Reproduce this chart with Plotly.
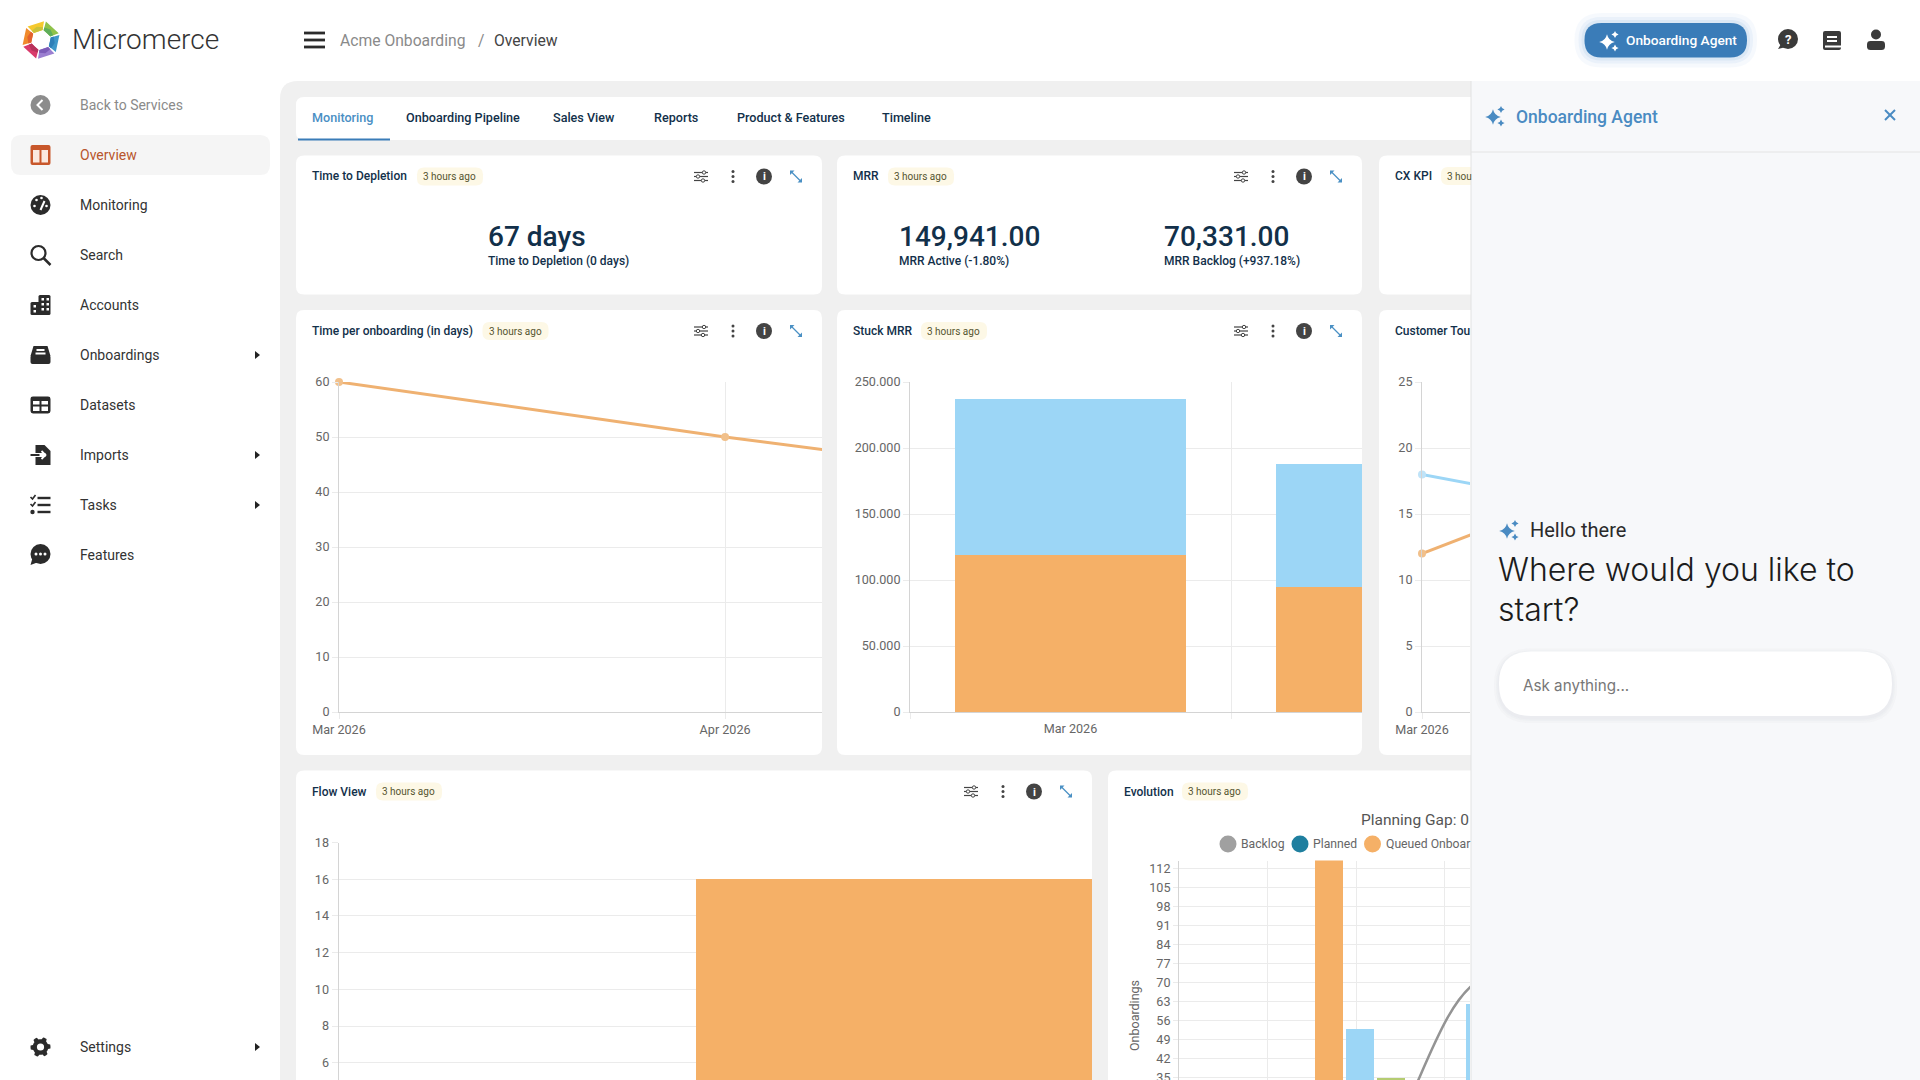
import math
import plotly.graph_objects as go

# chart values
time_months = ['Mar 2026', 'Apr 2026', 'May 2026']
time_days = [60, 50, 41]
time_ticks = [0, 10, 20, 30, 40, 50, 60]

stuck_months = ['Mar 2026', 'Apr 2026']
stuck_orange = [119000, 95000]
stuck_blue = [118500, 93000]
stuck_ticks = [0, 50000, 100000, 150000, 200000, 250000]
stuck_labels = ['0', '50.000', '100.000', '150.000', '200.000', '250.000']

tour_months = ['Mar 2026', 'Apr 2026']
tour_blue = [18, 12.4]
tour_orange = [12, 23.3]
tour_ticks = [0, 5, 10, 15, 20, 25]

flow_steps = [0, 1, 2]
flow_values = [0, 16, 16]
flow_ticks = [6, 8, 10, 12, 14, 16, 18]

evo_ticks = [35, 42, 49, 56, 63, 70, 77, 84, 91, 98, 105, 112]
evo_grid = [0, 1, 2, 3]
evo_queued_x = [1.695]
evo_queued = [118]
evo_blue_x = [2.045, 3.40]
evo_blue = [53, 62]
evo_green_x = [2.395]
evo_green = [34.6]
evo_backlog_x = [0.69, 2.045, 3.40, 4.75]
evo_backlog = [0, 0, 71, 72]

menu_items = ['Back to Services', 'Overview', 'Monitoring', 'Search', 'Accounts', 'Onboardings',
              'Datasets', 'Imports', 'Tasks', 'Features', 'Settings']
menu_y = [105, 155, 205, 255, 305, 355, 405, 455, 505, 555, 1047]
tab_names = ['Monitoring', 'Onboarding Pipeline', 'Sales View', 'Reports', 'Product & Features', 'Timeline']
tab_x = [312, 406, 553, 654, 737, 882]

ORANGE = '#f5b067'
BLUE = '#9cd6f6'
GREEN = '#b5cc72'
NAVY = '#12304a'
ACCENT = '#3a7cb8'
INK = '#333333'
GRID = '#ebebeb'
AXIS = '#d4d4d4'
TICK = '#666666'
W = 1920
H = 1080

shapes = []
notes = []


def px(x):
    return x / W


def py(y):
    return 1 - y / H


def to_paper(d):
    # pixel path to paper coordinates
    out = []
    is_x = True
    for tok in d.split():
        if tok.isalpha():
            out.append(tok)
            is_x = True
        else:
            out.append(str(round(px(float(tok)) if is_x else py(float(tok)), 5)))
            is_x = not is_x
    return ' '.join(out)


def shift(d, cx, cy, s=1.0):
    # move a path of absolute commands to (cx, cy)
    out = []
    is_x = True
    for tok in d.split():
        if tok.isalpha():
            out.append(tok)
            is_x = True
        else:
            out.append(str(round(float(tok) * s + (cx if is_x else cy), 2)))
            is_x = not is_x
    return ' '.join(out)


def path(d, fill=None, line=None, width=0, opacity=1):
    shapes.append(dict(type='path', xref='paper', yref='paper', layer='below', path=to_paper(d), opacity=opacity,
                       fillcolor=fill or 'rgba(0,0,0,0)', line=dict(color=line or 'rgba(0,0,0,0)', width=width)))


def rrect(x0, y0, x1, y1, r, fill, opacity=1, tl=None):
    tl = r if tl is None else tl
    d = (f'M {x0 + tl} {y0} L {x1 - r} {y0} Q {x1} {y0} {x1} {y0 + r} L {x1} {y1 - r} Q {x1} {y1} {x1 - r} {y1} '
         f'L {x0 + r} {y1} Q {x0} {y1} {x0} {y1 - r} L {x0} {y0 + tl} Q {x0} {y0} {x0 + tl} {y0} Z')
    path(d, fill, opacity=opacity)


def rect(x0, y0, x1, y1, fill):
    path(f'M {x0} {y0} L {x1} {y0} L {x1} {y1} L {x0} {y1} Z', fill)


def dot(cx, cy, r, fill, line=None, width=0):
    shapes.append(dict(type='circle', xref='paper', yref='paper', layer='below', x0=px(cx - r), y0=py(cy - r),
                       x1=px(cx + r), y1=py(cy + r), fillcolor=fill, line=dict(color=line or 'rgba(0,0,0,0)', width=width)))


def seg(x0, y0, x1, y1, color, width=2):
    shapes.append(dict(type='line', xref='paper', yref='paper', layer='below', x0=px(x0), y0=py(y0), x1=px(x1), y1=py(y1),
                       line=dict(color=color, width=width)))


def txt(x, y, s, size=13, color=INK, anchor='left', weight=400, family='Roboto', angle=0):
    # annotations carry a small pad, pull them back onto the pixel
    if anchor == 'left':
        x -= 2
    elif anchor == 'right':
        x += 2
    notes.append(dict(x=px(x), y=py(y), xref='paper', yref='paper', text=s, showarrow=False, xanchor=anchor,
                      yanchor='middle', textangle=angle, font=dict(size=size, color=color, weight=weight, family=family)))


def star(cx, cy, r, fill):
    c = r * 0.18
    d = (f'M 0 {-r} Q {c} {-c} {r} 0 Q {c} {c} 0 {r} Q {-c} {c} {-r} 0 Q {-c} {-c} 0 {-r} Z')
    path(shift(d, cx, cy), fill)


def sparkle(cx, cy, fill):
    star(cx - 2, cy + 1, 7.8, fill)
    star(cx + 6, cy - 6.5, 3.6, fill)
    star(cx + 6, cy + 7, 3.6, fill)


def card(x0, y0, x1, y1, title, badge_x, badge='3 hours ago', icons=True):
    clip = x1 >= 1471
    rrect(x0, y0, x1 + (12 if clip else 0), y1, 8, 'white')
    head = y0 + 21
    txt(x0 + 16, head, title, 12, NAVY, weight=500)
    if badge:
        rrect(badge_x, head - 9, badge_x + 66, head + 9, 7, '#fdf8e6')
        txt(badge_x + 6, head, badge, 10, '#55552f')
    if icons:
        cx = x1 - 121
        for oy in (-4, 0, 4):
            seg(cx - 7, head + oy, cx + 7, head + oy, '#444444', 1.2)
        dot(cx + 3, head - 4, 1.7, 'white', '#444444', 1)
        dot(cx - 3, head, 1.7, 'white', '#444444', 1)
        dot(cx + 2, head + 4, 1.7, 'white', '#444444', 1)
        for oy in (-5, 0, 5):
            dot(x1 - 89, head + oy, 1.5, '#444444')
        dot(x1 - 58, head, 8, '#444444')
        txt(x1 - 58, head + 0.5, 'i', 11, 'white', 'center', 700)
        ex = x1 - 26
        seg(ex - 5, head - 5, ex + 5, head + 5, '#4a90c4', 1.3)
        path(f'M {ex - 6} {head - 6} L {ex - 1.5} {head - 6} L {ex - 6} {head - 1.5} Z', '#4a90c4')
        path(f'M {ex + 6} {head + 6} L {ex + 1.5} {head + 6} L {ex + 6} {head + 1.5} Z', '#4a90c4')


def logo(cx, cy):
    colors = ['#8fc24a', '#3f97c9', '#9b7fd1', '#d93a6b', '#f08a2c', '#f5c92e']
    inner = ['#5fae5a', '#2f7fb8', '#7c5cb8', '#b8325a', '#e3622e', '#c9c23a']
    for i in range(6):
        a = math.radians(i * 60 - 75)
        b = a + math.radians(54)
        m = (a + b) / 2
        pts = [(19, a), (19, b), (10, b), (9, m), (10, a)]
        xy = [(cx + r * math.cos(t), cy + r * math.sin(t)) for r, t in pts]
        d = 'M ' + ' L '.join(f'{x:.1f} {y:.1f}' for x, y in xy) + ' Z'
        path(d, colors[i])
        pts = [(14, m), (13, b), (10, b), (9, m), (10, a), (13, a)]
        xy = [(cx + r * math.cos(t), cy + r * math.sin(t)) for r, t in pts]
        d = 'M ' + ' L '.join(f'{x:.1f} {y:.1f}' for x, y in xy) + ' Z'
        path(d, inner[i])


def menu_icon(name, cy):
    cx = 40.5
    k = '#2b2b2b'
    if name == 'Back to Services':
        dot(cx, cy, 10, '#8c8c8c')
        path(shift('M 2 -5 L -3 0 L 2 5', cx, cy), None, 'white', 2)
    elif name == 'Overview':
        rrect(cx - 10, cy - 10, cx + 10, cy + 10, 2, '#c8572b')
        rect(cx - 7.5, cy - 5, cx - 1, cy + 7.5, '#fbe9df')
        rect(cx + 1, cy - 5, cx + 7.5, cy + 7.5, '#fbe9df')
    elif name == 'Monitoring':
        dot(cx, cy, 10, k)
        seg(cx, cy + 5, cx + 4, cy - 4, 'white', 2)
        for ox, oy in ((-6, 1), (-4, -5), (1, -7), (6, 1)):
            dot(cx + ox, cy + oy, 1.3, 'white')
    elif name == 'Search':
        dot(cx - 2, cy - 2, 7, 'rgba(0,0,0,0)', k, 2.2)
        seg(cx + 3, cy + 3, cx + 10, cy + 10, k, 2.5)
    elif name == 'Accounts':
        rrect(cx - 10, cy - 3, cx, cy + 10, 1.5, k)
        rrect(cx - 2, cy - 10, cx + 10, cy + 10, 1.5, k)
        for ox in (1, 6):
            for oy in (-7, -2, 3):
                rect(cx + ox, cy + oy, cx + ox + 2.5, cy + oy + 2.5, 'white')
        for oy in (0, 5):
            rect(cx - 7, cy + oy, cx - 4.5, cy + oy + 2.5, 'white')
    elif name == 'Onboardings':
        rrect(cx - 10, cy + 0, cx + 10, cy + 9, 2, k)
        path(shift('M -7 -9 L 7 -9 L 10 1 L 3 1 L 2 4 L -2 4 L -3 1 L -10 1 Z', cx, cy), k)
        rect(cx - 4, cy - 6, cx + 4, cy - 4, 'white')
        rect(cx - 5, cy - 2.5, cx + 5, cy - 0.5, 'white')
    elif name == 'Datasets':
        rrect(cx - 10, cy - 8.5, cx + 10, cy + 8.5, 2.5, k)
        for x0, x1 in ((-7.5, -1), (1, 7.5)):
            rect(cx + x0, cy - 4, cx + x1, cy - 0.5, 'white')
            rect(cx + x0, cy + 1.5, cx + x1, cy + 6, 'white')
    elif name == 'Imports':
        path(shift('M -5 -10 L 4 -10 L 10 -4 L 10 10 L -5 10 Z', cx, cy), k)
        seg(cx - 10, cy, cx + 5, cy, 'white', 4)
        seg(cx - 10, cy, cx + 4, cy, k, 2)
        seg(cx - 1, cy, cx + 4, cy, 'white', 2)
        path(shift('M 1 -4 L 5 0 L 1 4', cx, cy), None, 'white', 1.8)
    elif name == 'Tasks':
        for oy in (-7, 0, 7):
            seg(cx - 3, cy + oy, cx + 10, cy + oy, k, 2.4)
        path(shift('M -10 -8 L -8 -6 L -5 -10', cx, cy), None, k, 1.6)
        path(shift('M -10 -1 L -8 1 L -5 -3', cx, cy), None, k, 1.6)
        dot(cx - 8, cy + 7, 2.2, k)
    elif name == 'Features':
        dot(cx, cy - 1, 10, k, None, 0)
        path(shift('M -8 3 L -10 10 L -2 7 Z', cx, cy), k)
        for ox in (-4.5, 0, 4.5):
            dot(cx + ox, cy - 1, 1.5, 'white')
    elif name == 'Settings':
        pts = []
        for i in range(48):
            r = 10 if (i % 8) in (0, 1, 2, 7) else 7.8
            a = math.radians(i * 7.5 - 7)
            pts.append(f'{cx + r * math.cos(a):.1f} {cy + r * math.sin(a):.1f}')
        path('M ' + ' L '.join(pts) + ' Z', k)
        dot(cx, cy, 3.6, 'white')


# page background and side menu
rrect(280, 81, 1500, 1100, 0, '#f0f0f0', tl=18)
logo(41, 40)
txt(72, 40, 'Micromerce', 28, INK, weight=300)
for oy in (-7, 0, 7):
    seg(304, 40 + oy, 325, 40 + oy, '#2b2b2b', 2.8)
txt(340, 40.5, 'Acme Onboarding', 15.7, '#8a8a8a')
txt(478, 40.5, '/', 15.7, '#8a8a8a')
txt(494, 40.5, 'Overview', 15.7, '#444444')

rrect(11, 135, 270, 175, 10, '#f5f5f5')
for item, y in zip(menu_items, menu_y):
    menu_icon(item, y)
    col = '#8a8a8a' if item == 'Back to Services' else ('#b8562c' if item == 'Overview' else INK)
    txt(80, y, item, 14, col)
    if item in ('Onboardings', 'Imports', 'Tasks', 'Settings'):
        path(f'M 255 {y - 4} L 260 {y} L 255 {y + 4} Z', '#222222')

# tabs
rrect(296, 97, 1490, 140, 8, 'white')
for i, (name, x) in enumerate(zip(tab_names, tab_x)):
    txt(x, 117.5, name, 12.6, '#4a8fc4' if i == 0 else NAVY, weight=500)
seg(298, 139.5, 390, 139.5, ACCENT, 2)

# cards
card(296, 155.5, 822, 294.5, 'Time to Depletion', 417)
card(837, 155.5, 1362, 294.5, 'MRR', 888)
card(1379, 155.5, 1471, 294.5, 'CX KPI', 1441, '', icons=False)
card(296, 310, 822, 755, 'Time per onboarding (in days)', 482.5)
card(837, 310, 1362, 755, 'Stuck MRR', 921)
card(1379, 310, 1471, 755, 'Customer Tou', 1500, '', icons=False)
card(296, 770.5, 1092, 1100, 'Flow View', 376)
card(1108, 770.5, 1471, 1100, 'Evolution', 1182, icons=False)
rrect(1441, 167, 1480, 185, 7, '#fdf8e6')
txt(1447, 176.5, '3 hou', 10, '#55552f')

for x, y0, big, small in ((488, 236, '67 days', 'Time to Depletion (0 days)'),
                          (899, 236, '149,941.00', 'MRR Active (-1.80%)'),
                          (1164, 236, '70,331.00', 'MRR Backlog (+937.18%)')):
    txt(x, y0, big, 28, NAVY, weight=500)
    txt(x, y0 + 25, small, 12, NAVY, weight=500)

# Evolution chart title and legend, cut off by the panel as in the page
txt(1468.5, 820, 'Planning Gap: 0', 15.5, '#555555', 'right')
for x, col, name in ((1228, '#a0a0a0', 'Backlog'), (1300, '#1f7f9f', 'Planned'), (1372.5, ORANGE, 'Queued Onboar')):
    dot(x, 844, 8.5, col)
    txt(x + 13, 844, name, 12.2, TICK)
txt(1134, 1016, 'Onboardings', 12.5, TICK, 'center', angle=-90)

# agent panel
rect(1471, 81, 1920, 1080, '#f7f8fa')
seg(1471, 81, 1471, 1080, '#e2e2e2', 1)
seg(1471, 152, 1920, 152, '#e4e4e4', 1)
sparkle(1495, 116, '#4a8bc2')
txt(1516, 117, 'Onboarding Agent', 17.5, '#4a8bc2', weight=500)
seg(1885, 110, 1895, 120, '#4a8bc2', 2)
seg(1895, 110, 1885, 120, '#4a8bc2', 2)
sparkle(1509, 530, '#4a8bc2')
txt(1530, 530, 'Hello there', 20, '#2a2a2a')
txt(1498, 569, 'Where would you like to', 32, '#1c1c1c', weight=300, family='Inter')
txt(1498, 609, 'start?', 32, '#1c1c1c', weight=300, family='Inter')
for grow, op in ((5, 0.25), (3, 0.3), (1.5, 0.4)):
    rrect(1499 - grow, 651.5 - grow + 2, 1892 + grow, 716 + grow + 2, 32 + grow, '#e6e7ea', op)
rrect(1499, 651.5, 1892, 716, 32, 'white')
txt(1523, 685, 'Ask anything...', 15.2, '#777777', family='Inter')

# top right button and icons
for grow, op in ((10, 0.07), (6, 0.1), (3, 0.14)):
    rrect(1584.5 - grow, 23 - grow, 1747 + grow, 57.5 + grow, 17 + grow, '#7fb0dd', op)
rrect(1584.5, 23, 1747, 57.5, 17, ACCENT)
sparkle(1609, 41, 'white')
txt(1626, 40, 'Onboarding Agent', 13.7, 'white', weight=500)
dot(1788, 39, 10, '#3a3a3a')
path('M 1781 44 L 1778 49 L 1786 47 Z', '#3a3a3a')
txt(1788, 39.5, '?', 13, 'white', 'center', 700)
rrect(1823, 31, 1841, 50, 2, '#3a3a3a')
rect(1827, 36, 1837, 38, 'white')
rect(1827, 40, 1837, 42, 'white')
rect(1825, 45.5, 1841, 47.5, 'white')
dot(1876, 34.5, 5, '#3a3a3a')
rrect(1867, 41, 1885, 50, 3.5, '#3a3a3a')

fig = go.Figure()


def box(left, right, top, bottom):
    return [left / W, right / W], [1 - bottom / H, 1 - top / H]


def y_axis(anchor, dom, rng, ticks, labels=None):
    return dict(domain=dom, anchor=anchor, range=rng, tickmode='array', tickvals=ticks,
                ticktext=labels or [str(t) for t in ticks], ticks='outside', ticklen=6, tickcolor=GRID,
                showgrid=True, gridcolor=GRID, gridwidth=1.2, showline=True, linecolor=AXIS, linewidth=1, zeroline=False,
                tickfont=dict(size=12.6, color=TICK, family='Roboto'), fixedrange=True, automargin=False,
                ticklabeloverflow='allow')


def x_axis(anchor, dom, **kw):
    base = dict(domain=dom, anchor=anchor, ticks='outside', ticklen=6, tickcolor=GRID, gridcolor=GRID, showgrid=True,
                gridwidth=1, showline=True, linecolor=AXIS, linewidth=1, zeroline=False,
                tickfont=dict(size=12.6, color=TICK, family='Roboto'), fixedrange=True, automargin=False)
    base.update(kw)
    return base


# time per onboarding
dx, dy = box(339, 822, 382, 712)
fig.add_trace(go.Scatter(x=time_months, y=time_days, mode='lines+markers', xaxis='x', yaxis='y', cliponaxis=False,
                         line=dict(color='#efb171', width=3), marker=dict(size=8, color='#f1c08b')))
xaxis1 = x_axis('y', dx, type='category', categoryorder='array', categoryarray=time_months, range=[0, 1.251])
yaxis1 = y_axis('x', dy, [0, 60], time_ticks)

# stuck MRR
dx, dy = box(910, 1362, 382, 712)
fig.add_trace(go.Bar(x=stuck_months, y=stuck_orange, marker=dict(color=ORANGE, line=dict(width=0)), xaxis='x2', yaxis='y2'))
fig.add_trace(go.Bar(x=stuck_months, y=stuck_blue, marker=dict(color=BLUE, line=dict(width=0)), xaxis='x2', yaxis='y2'))
xaxis2 = x_axis('y2', dx, type='category', categoryorder='array', categoryarray=stuck_months, range=[-0.5, 0.908],
                tickson='boundaries', ticklabelstandoff=5)
yaxis2 = y_axis('x2', dy, [0, 250000], stuck_ticks, stuck_labels)

# customer touch
dx, dy = box(1422, 1470, 382, 712)
fig.add_trace(go.Scatter(x=tour_months, y=tour_blue, mode='lines+markers', xaxis='x3', yaxis='y3', cliponaxis=False,
                         line=dict(color=BLUE, width=3), marker=dict(size=8, color='#bfe3f8')))
fig.add_trace(go.Scatter(x=tour_months, y=tour_orange, mode='lines+markers', xaxis='x3', yaxis='y3', cliponaxis=False,
                         line=dict(color='#efb171', width=3), marker=dict(size=8, color='#f1c08b')))
xaxis3 = x_axis('y3', dx, type='category', categoryorder='array', categoryarray=tour_months, range=[0, 0.124])
yaxis3 = y_axis('x3', dy, [0, 25], tour_ticks)

# flow view, runs off the bottom of the page
dx, dy = box(338.5, 1092, 842.5, 1080)
fig.add_trace(go.Bar(x=flow_steps, y=flow_values, width=1, marker=dict(color=ORANGE, line=dict(width=0)), xaxis='x4', yaxis='y4'))
xaxis4 = dict(domain=dx, anchor='y4', range=[-0.5, 1.608], showticklabels=False, showgrid=False, zeroline=False,
              showline=False, ticks='', fixedrange=True, automargin=False)
yaxis4 = y_axis('x4', dy, [5.06, 18], flow_ticks)

# evolution
dx, dy = box(1179, 1470, 860.5, 1080)
fig.add_trace(go.Bar(x=evo_queued_x, y=evo_queued, width=0.32, marker=dict(color=ORANGE, line=dict(width=0)), xaxis='x5', yaxis='y5'))
fig.add_trace(go.Bar(x=evo_blue_x, y=evo_blue, width=0.32, marker=dict(color=BLUE, line=dict(width=0)), xaxis='x5', yaxis='y5'))
fig.add_trace(go.Bar(x=evo_green_x, y=evo_green, width=0.32, marker=dict(color=GREEN, line=dict(width=0)), xaxis='x5', yaxis='y5'))
fig.add_trace(go.Scatter(x=evo_backlog_x, y=evo_backlog, mode='lines', xaxis='x5', yaxis='y5',
                         line=dict(color='#949494', width=2.5, shape='spline', smoothing=1)))
xaxis5 = dict(domain=dx, anchor='y5', range=[0, 3.288], tickmode='array', tickvals=evo_grid, showticklabels=False,
              showgrid=True, gridcolor=GRID, zeroline=False, showline=False, ticks='', fixedrange=True, automargin=False)
yaxis5 = y_axis('x5', dy, [34, 115], evo_ticks)
yaxis5['ticklen'] = 5

fig.update_layout(
    template='none', width=W, height=H, autosize=False, margin=dict(l=0, r=0, t=0, b=0, pad=0),
    paper_bgcolor='white', plot_bgcolor='rgba(0,0,0,0)', showlegend=False, barmode='stack', bargap=0.28,
    hovermode=False, shapes=shapes, annotations=notes, font=dict(family='Roboto'),
    xaxis=xaxis1, yaxis=yaxis1, xaxis2=xaxis2, yaxis2=yaxis2, xaxis3=xaxis3, yaxis3=yaxis3,
    xaxis4=xaxis4, yaxis4=yaxis4, xaxis5=xaxis5, yaxis5=yaxis5,
)
fig.write_html('out.html', config=dict(displayModeBar=False),
               post_script="document.body.style.margin='0';document.body.style.overflow='hidden';")
